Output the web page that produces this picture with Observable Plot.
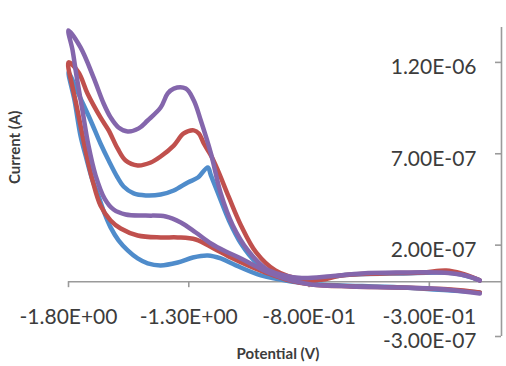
<!DOCTYPE html>
<html><head><meta charset="utf-8">
<script src="https://cdn.jsdelivr.net/npm/d3@7"></script>
<script src="https://cdn.jsdelivr.net/npm/@observablehq/plot@0.6"></script>
<style>body{margin:0;background:#fff;} svg{display:block;}</style>
</head><body><div id="chart"></div>
<script>
// Potential (V) and current (A) for each cyclic voltammogram
const bluePotential = [-0.09,-0.19,-0.42,-0.667,-0.79,-0.875,-0.94,-1.02,-1.083,-1.133,-1.175,-1.208,-1.221,-1.262,-1.304,-1.3625,-1.417,-1.479,-1.529,-1.571,-1.596,-1.633,-1.667,-1.708,-1.75,-1.80,
  -1.775,-1.75,-1.729,-1.70,-1.679,-1.65,-1.625,-1.592,-1.554,-1.5125,-1.471,-1.417,-1.346,-1.283,-1.221,-1.167,-1.104,-1.00,-0.875,-0.75,-0.42,-0.09];
const blueCurrent = [0.07e-7,0.45e-7,0.45e-7,0.34e-7,0.05e-7,0.05e-7,0.34e-7,1.05e-7,2.09e-7,3.35e-7,4.72e-7,5.82e-7,6.25e-7,5.70e-7,5.43e-7,4.99e-7,4.77e-7,4.72e-7,4.83e-7,5.21e-7,5.70e-7,6.63e-7,7.56e-7,8.82e-7,10.03e-7,11.45e-7,
  9.92e-7,7.99e-7,6.91e-7,5.54e-7,4.83e-7,3.73e-7,2.97e-7,2.26e-7,1.71e-7,1.27e-7,1.00e-7,0.89e-7,1.05e-7,1.32e-7,1.43e-7,1.27e-7,0.89e-7,0.34e-7,0.01e-7,-0.15e-7,-0.32e-7,-0.59e-7];

const redPotential = [-0.09,-0.167,-0.23,-0.33,-0.50,-0.667,-0.75,-0.83,-0.94,-1.02,-1.083,-1.133,-1.179,-1.208,-1.2375,-1.258,-1.279,-1.321,-1.3625,-1.417,-1.458,-1.5125,-1.5625,-1.596,-1.633,-1.667,-1.721,-1.758,-1.80,
  -1.783,-1.771,-1.75,-1.729,-1.70,-1.667,-1.625,-1.583,-1.5125,-1.417,-1.346,-1.271,-1.196,-1.125,-1.054,-0.98,-0.896,-0.79,-0.625,-0.42,-0.21,-0.09];
const redCurrent = [0.07e-7,0.45e-7,0.61e-7,0.50e-7,0.45e-7,0.34e-7,0.10e-7,0.12e-7,0.61e-7,1.60e-7,3.08e-7,4.61e-7,6.09e-7,6.91e-7,7.56e-7,8.11e-7,8.28e-7,8.11e-7,7.45e-7,6.85e-7,6.52e-7,6.36e-7,6.63e-7,7.29e-7,8.28e-7,8.99e-7,10.30e-7,11.45e-7,12.0e-7,
  10.63e-7,9.92e-7,8.55e-7,7.18e-7,5.54e-7,4.17e-7,3.35e-7,2.91e-7,2.53e-7,2.42e-7,2.42e-7,2.31e-7,1.82e-7,1.32e-7,0.89e-7,0.50e-7,0.12e-7,-0.15e-7,-0.26e-7,-0.32e-7,-0.43e-7,-0.59e-7];

const purplePotential = [-0.09,-0.15,-0.25,-0.42,-0.58,-0.71,-0.83,-0.917,-0.98,-1.054,-1.117,-1.167,-1.208,-1.25,-1.279,-1.3125,-1.3625,-1.3875,-1.417,-1.471,-1.508,-1.554,-1.592,-1.625,-1.654,-1.696,-1.75,-1.80,
  -1.783,-1.767,-1.742,-1.717,-1.6875,-1.65,-1.6125,-1.5625,-1.479,-1.396,-1.333,-1.271,-1.208,-1.146,-1.083,-1.02,-0.96,-0.875,-0.79,-0.625,-0.42,-0.29,-0.19,-0.09];
const purpleCurrent = [0.07e-7,0.34e-7,0.50e-7,0.50e-7,0.45e-7,0.30e-7,0.20e-7,0.39e-7,0.72e-7,1.71e-7,3.08e-7,4.83e-7,7.02e-7,8.82e-7,9.92e-7,10.57e-7,10.57e-7,10.30e-7,9.53e-7,8.82e-7,8.39e-7,8.22e-7,8.44e-7,8.99e-7,9.75e-7,11.18e-7,12.82e-7,13.75e-7,
  12.66e-7,11.29e-7,9.37e-7,7.45e-7,5.82e-7,4.55e-7,3.95e-7,3.68e-7,3.62e-7,3.57e-7,3.24e-7,2.69e-7,2.09e-7,1.65e-7,1.27e-7,0.83e-7,0.45e-7,0.07e-7,-0.15e-7,-0.26e-7,-0.32e-7,-0.37e-7,-0.48e-7,-0.65e-7];

const xTicks = [-1.8, -1.3, -0.8, -0.3];
const xTickLabels = ["-1.80E+00", "-1.30E+00", "-8.00E-01", "-3.00E-01"];
const yTicks = [-3e-7, 2e-7, 7e-7, 1.2e-6];
const yTickLabels = ["-3.00E-07", "2.00E-07", "7.00E-07", "1.20E-06"];
const xTitle = "Potential (V)";
const yTitle = "Current (A)";

const series = [
  {name: "blue", color: "#4f8ccb", v: bluePotential, i: blueCurrent},
  {name: "red", color: "#c0504d", v: redPotential, i: redCurrent},
  {name: "purple", color: "#8466ac", v: purplePotential, i: purpleCurrent}
];
const toRows = s => s.v.map((v, k) => ({v, i: s.i[k]}));

const yMax = 1.391e-6;
const axisColor = "#9a9a9a";
const textColor = "#3c3c3c";

const chart = Plot.plot({
  width: 506,
  height: 366,
  marginLeft: 68,
  marginRight: 5,
  marginTop: 27,
  marginBottom: 30,
  x: {domain: [-1.8, 0], axis: null},
  y: {domain: [-3e-7, yMax], axis: null},
  style: {fontFamily: "Lato, 'Open Sans', sans-serif", background: "white", overflow: "visible"},
  marks: [
    // axis lines
    Plot.ruleY([0], {x1: -1.8, x2: 0, stroke: axisColor, strokeWidth: 1.6}),
    Plot.ruleX([0], {y1: -3e-7, y2: yMax, stroke: axisColor, strokeWidth: 1.6}),
    // ticks
    Plot.ruleX(xTicks, {x: d => d, y1: 0, y2: 0, insetBottom: -6, stroke: axisColor, strokeWidth: 1.6}),
    Plot.ruleY(yTicks, {y: d => d, x1: 0, x2: 0, insetLeft: -6, stroke: axisColor, strokeWidth: 1.6}),
    // tick labels
    Plot.text(xTicks, {x: d => d, y: 0, text: (d, k) => xTickLabels[k], dy: 36, fontSize: 21, fill: textColor, textAnchor: "middle"}),
    Plot.text(yTicks, {x: 0, y: d => d, text: (d, k) => yTickLabels[k], dx: -25, dy: 5, fontSize: 21, fill: textColor, textAnchor: "end"}),
    // axis titles
    Plot.text([xTitle], {frameAnchor: "bottom", text: d => d, dx: -7, dy: 22, fontSize: 15, fontWeight: "bold", fill: textColor}),
    Plot.text([yTitle], {frameAnchor: "left", text: d => d, rotate: -90, dx: -53, dy: 2, fontSize: 15, fontWeight: "bold", fill: textColor}),
    // curves
    ...series.map(s => Plot.line(toRows(s), {x: "v", y: "i", stroke: s.color, strokeWidth: 4.5, curve: "catmull-rom", strokeLinejoin: "round", strokeLinecap: "round"}))
  ]
});
document.getElementById("chart").appendChild(chart);
</script>
</body></html>
